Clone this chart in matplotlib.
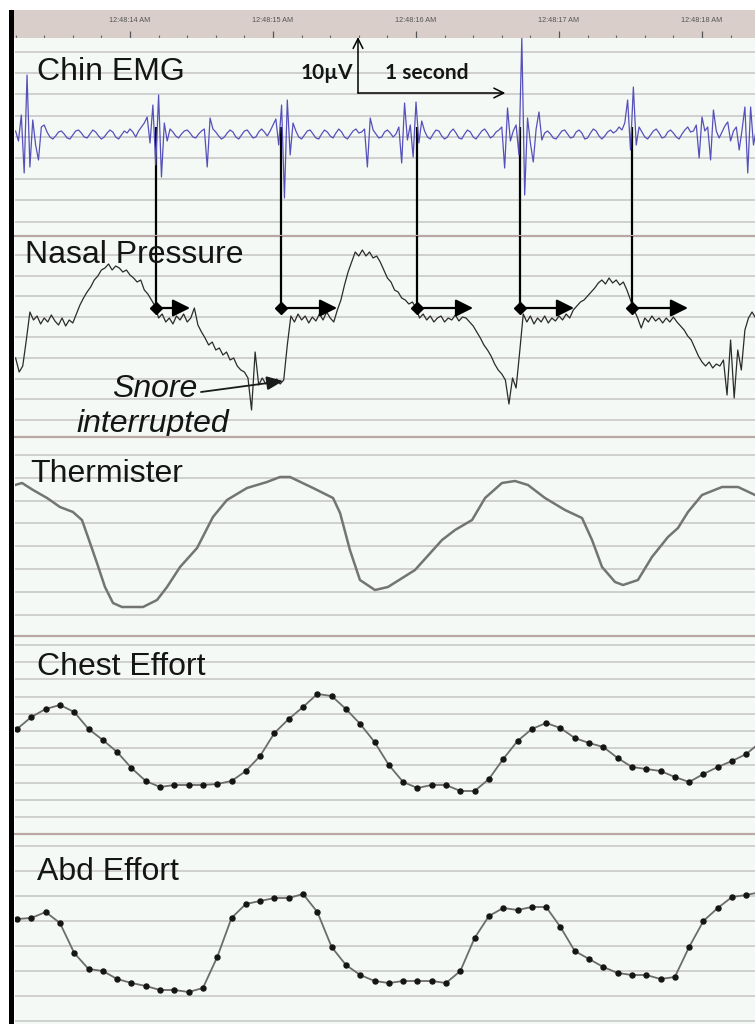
import numpy as np
import matplotlib
matplotlib.use("Agg")
import matplotlib.pyplot as plt
from matplotlib.patches import Rectangle
from matplotlib.ticker import MultipleLocator

# ------------------------------------------------------------------ data
tick_seconds = [14, 15, 16, 17, 18]
tick_labels = ["12:48:14 AM", "12:48:15 AM", "12:48:16 AM", "12:48:17 AM", "12:48:18 AM"]
channel_names = ["Chin EMG", "Nasal Pressure", "Thermister", "Chest Effort", "Abd Effort"]

# Chin EMG (arbitrary units, 55 units = 10 uV), sampled every 0.02 s from 13.20 s
emg_t0, emg_dt = 13.20, 0.02
emg = [4, -6, 20, -38, 60, -32, 15, -10, -25, 8,
       10, 3, -2, -4, -1, 3, 4, 1, -3, -4,
       0, 4, 5, 2, -2, -3, 1, 5, 3, -1,
       -4, -2, 2, 5, 3, -2, -4, 0, 4, 2,
       6, 3, -2, 4, 8, 12, 18, -8, 30, -30,
       40, -42, 12, -6, 6, 3, -1, -3, 1, 4,
       5, 2, -2, -3, 1, 4, 6, -32, 17, 6,
       3, -1, -4, -2, 2, 5, 3, -2, -4, 0,
       4, 5, 1, -3, -2, 3, 6, 3, -1, 4,
       10, 16, -10, 30, -63, 35, -20, 12, 4, -2,
       -4, 0, 4, 5, 1, -3, -4, 1, 5, 3,
       -1, -3, 2, 6, 3, -2, -4, 0, 4, 6,
       2, 3, 6, -32, 17, 5, 1, -3, -2, 3,
       5, 2, -2, 1, 8, -28, 32, -5, 10, -22,
       33, -8, 14, 4, -2, -4, 1, 5, 4, -1,
       -4, -2, 3, 6, 2, -3, -4, 1, 5, 3,
       -2, -4, 0, 4, 6, 2, -3, -1, 3, 5,
       8, -33, 27, -6, 4, 10, -20, 97, -60, 17,
       -8, -27, 6, 23, -5, 2, 4, 1, -3, -4,
       0, 4, 5, 1, -3, -2, 3, 5, 2, -4,
       -3, 2, 6, 4, -1, -4, -1, 3, 5, 2,
       4, 8, 5, 12, 35, -15, 48, -10, 8, 3,
       -2, -4, 0, 4, 6, 2, -3, -2, 3, 5,
       2, -2, -4, 1, 5, 8, 3, 4, 10, -23,
       18, 4, 8, -25, 25, 4, -3, 3, 9, 13,
       -6, 4, 8, -15, 5, 28, -38, 28, -10, 6]

# Nasal pressure (arbitrary units), sampled every 0.025 s from 13.20 s
nasal_t0, nasal_dt = 13.20, 0.025
nasal = [-50, -64, -58, -32, -4, -12, -8, -16, -10, -14,
         -7, -13, -17, -10, -18, -12, -15, -6, 3, 10,
         16, 21, 28, 32, 38, 40, 44, 38, 42, 40,
         36, 38, 33, 30, 26, 28, 18, 14, 8, 2,
         -10, -6, -14, -10, -16, -8, -12, -6, -14, -10,
         0, -17, -24, -30, -37, -34, -42, -40, -47, -44,
         -52, -50, -58, -62, -64, -70, -102, -44, -77, -70,
         -76, -72, -75, -71, -76, -72, -37, -8, -14, -6,
         -12, -8, -15, -9, -13, -6, -12, -4, -10, -14,
         -2, 8, 23, 36, 46, 56, 52, 58, 52, 56,
         50, 52, 46, 38, 30, 26, 18, 16, 10, 8,
         4, 6, 0, -10, -6, -12, -8, -14, -10, -8,
         -14, -10, -12, -7, -13, -9, -10, -14, -18, -24,
         -30, -37, -42, -48, -56, -62, -66, -72, -96, -70,
         -80, -44, -6, -14, -8, -16, -10, -14, -8, -15,
         -10, -13, -8, -12, -6, -10, -2, 2, 6, 8,
         12, 16, 20, 25, 28, 24, 30, 25, 28, 23,
         26, 18, 8, -2, -10, -20, -10, -14, -8, -13,
         -10, -15, -10, -14, -9, -14, -18, -22, -28, -32,
         -40, -48, -54, -58, -54, -60, -56, -58, -52, -87,
         -32, -90, -42, -62, -22, -10, -4, -10]

# Thermister (arbitrary units) at irregular times (s)
therm_t = [13.196, 13.245, 13.322, 13.420, 13.510, 13.601, 13.664, 13.706, 13.769, 13.825,
           13.881, 13.944, 14.091, 14.189, 14.259, 14.350, 14.469, 14.580, 14.678, 14.818,
           14.958, 15.049, 15.119, 15.280, 15.420, 15.469, 15.538, 15.608, 15.713, 15.804,
           15.993, 16.182, 16.273, 16.392, 16.483, 16.601, 16.692, 16.783, 16.902, 17.042,
           17.161, 17.231, 17.301, 17.392, 17.448, 17.552, 17.650, 17.762, 17.832, 17.902,
           18.000, 18.140, 18.252, 18.371]
therm = [55, 57, 50, 42, 33, 28, 20, 3, -23, -47,
         -63, -67, -67, -60, -47, -27, -8, 23, 40, 52,
         58, 63, 63, 52, 42, 27, -10, -40, -50, -47,
         -30, 0, 10, 20, 42, 57, 59, 55, 42, 30,
         22, 0, -27, -42, -45, -40, -17, 3, 12, 28,
         45, 53, 53, 45]

# Chest / Abdominal effort (arbitrary units), one sample every 0.1 s from 13.21 s
effort_t0, effort_dt = 13.21, 0.1
chest = [31, 43, 51, 55, 48, 31, 20, 8, -8, -21,
         -27, -25, -25, -25, -24, -21, -11, 4, 27, 41,
         53, 66, 64, 51, 36, 18, -5, -22, -28, -25,
         -25, -31, -31, -19, 1, 19, 31, 37, 32, 22,
         17, 13, 2, -7, -9, -11, -17, -22, -14, -7,
         -1, 6, 18]
abd = [31, 32, 38, 27, -3, -19, -21, -29, -33, -36,
       -40, -40, -42, -38, -7, 32, 46, 49, 52, 52,
       56, 38, 3, -15, -25, -31, -33, -31, -31, -31,
       -33, -21, 12, 34, 42, 40, 43, 43, 23, -1,
       -9, -17, -23, -25, -25, -29, -27, 3, 29, 42,
       53, 55, 58]

# Arousal markers (s): EMG burst -> interrupted snore segment
arousal_start = [14.182, 15.056, 16.007, 16.727, 17.510]
arousal_end = [14.420, 15.448, 16.399, 17.105, 17.902]

# ------------------------------------------------------------------ layout
W, H = 755, 1024
fig = plt.figure(figsize=(W / 100, H / 100), dpi=100, facecolor="white")


def t_at(px):
    return 14 + (px - 130) / 143.0


def rect(x0, y0, x1, y1):
    return [x0 / W, 1 - y1 / H, (x1 - x0) / W, (y1 - y0) / H]


BG = "#f4f9f5"
GRID = "#c8c8c8"
SEP = "#bba7a3"
XL = (t_at(15), t_at(755))
LABEL_FONT = ["Liberation Sans", "DejaVu Sans"]

# header time bar
hx = fig.add_axes(rect(14, 10, 755, 38))
hx.set_facecolor("#d9cec9")
hx.set_xlim(t_at(14), t_at(755))
hx.set_ylim(0, 1)
hx.set_xticks(tick_seconds)
hx.xaxis.set_minor_locator(MultipleLocator(0.2))
hx.tick_params(axis="x", which="major", direction="in", length=5, width=0.9,
               color="#555555", labelbottom=False)
hx.tick_params(axis="x", which="minor", direction="in", length=2.5, width=0.8,
               color="#666666")
hx.set_yticks([])
for s in hx.spines.values():
    s.set_visible(False)
hx.axhline(0, color="#b9aeaa", lw=0.8)
for t, lab in zip(tick_seconds, tick_labels):
    hx.text(t, 0.62, lab, ha="center", va="center", fontsize=5.2,
            color="#555555", family=LABEL_FONT)

panels = [
    dict(top=38, bottom=236, base=135, grid0=52, gstep=21.2, n=9, lab=(37, 80)),
    dict(top=236, bottom=437, base=308, grid0=255, gstep=20.6, n=9, lab=(25, 263)),
    dict(top=437, bottom=636, base=540, grid0=455, gstep=22.8, n=8, lab=(30, 482)),
    dict(top=636, bottom=834, base=760, grid0=645, gstep=17.2, n=11, lab=(37, 675)),
    dict(top=834, bottom=1024, base=950, grid0=846, gstep=25.0, n=8, lab=(37, 880)),
]

axes = []
for i, (p, name) in enumerate(zip(panels, channel_names)):
    ax = fig.add_axes(rect(15, p["top"], 755, p["bottom"]))
    ax.set_facecolor(BG)
    ax.set_xlim(*XL)
    ax.set_ylim(p["base"] - p["bottom"], p["base"] - p["top"])
    ax.set_xticks([])
    ax.set_yticks([])
    for s in ax.spines.values():
        s.set_visible(False)
    for k in range(p["n"]):
        ax.axhline(p["base"] - (p["grid0"] + k * p["gstep"]), color=GRID, lw=1.2, zorder=0.5)
    if i > 0:
        ax.axhline(p["base"] - p["top"], color=SEP, lw=1.6, zorder=0.6, clip_on=False)
    lx, ly = p["lab"]
    ax.text(t_at(lx), p["base"] - ly, name, fontsize=23, family=LABEL_FONT,
            color="#151515", ha="left", va="baseline", zorder=7)
    axes.append(ax)

ax_emg, ax_nas, ax_th, ax_ch, ax_ab = axes

# traces
emg_t = emg_t0 + emg_dt * np.arange(len(emg))
nasal_t = nasal_t0 + nasal_dt * np.arange(len(nasal))
effort_t = effort_t0 + effort_dt * np.arange(len(chest))

ax_emg.plot(emg_t, emg, color="#5650bb", lw=0.9, zorder=3)
ax_nas.plot(nasal_t, nasal, color="#2b2b2b", lw=0.9, zorder=3)
ax_th.plot(therm_t, therm, color="#747474", lw=1.8, zorder=3)
for ax, vals in ((ax_ch, chest), (ax_ab, abd)):
    ax.plot(effort_t, vals, color="#6c6c6c", lw=1.3, marker="o", ms=3.6,
            mfc="#151515", mec="#151515", zorder=3)

# arousal connectors, diamonds and arrows
ax_emg.vlines(arousal_start, ax_emg.get_ylim()[0], 8, colors="black", lw=1.6, zorder=2)
ax_nas.vlines(arousal_start, 0, ax_nas.get_ylim()[1], colors="black", lw=1.6, zorder=4)
for s, e in zip(arousal_start, arousal_end):
    ax_nas.annotate("", xy=(e, 0), xytext=(s, 0),
                    arrowprops=dict(arrowstyle="-|>,head_length=0.7,head_width=0.35",
                                    color="black", lw=1.6, mutation_scale=15,
                                    shrinkA=0, shrinkB=0), zorder=5)
ax_nas.plot(arousal_start, np.zeros(len(arousal_start)), "D", color="black", ms=6.5, zorder=6)

# snore annotation
ax_nas.text(t_at(155), 308 - 397, "Snore", fontsize=23, style="italic",
            family=LABEL_FONT, ha="center", va="baseline", color="#151515", zorder=7)
ax_nas.text(t_at(153), 308 - 432, "interrupted", fontsize=23, style="italic",
            family=LABEL_FONT, ha="center", va="baseline", color="#151515", zorder=7)
ax_nas.annotate("", xy=(t_at(283), 308 - 381), xytext=(t_at(201), 308 - 392),
                arrowprops=dict(arrowstyle="-|>,head_length=0.7,head_width=0.3",
                                color="#1a1a1a", lw=1.3, mutation_scale=14,
                                shrinkA=0, shrinkB=0), zorder=6)

# scale bar: 10 uV (55 units) and 1 second
sx = t_at(358)
sy = 135 - 93
ax_emg.annotate("", xy=(sx, sy + 56), xytext=(sx, sy),
                arrowprops=dict(arrowstyle="->,head_length=0.5,head_width=0.25",
                                color="black", lw=1.1, mutation_scale=14,
                                shrinkA=0, shrinkB=0), annotation_clip=False, zorder=6)
ax_emg.annotate("", xy=(sx + 1.03, sy), xytext=(sx, sy),
                arrowprops=dict(arrowstyle="->,head_length=0.5,head_width=0.25",
                                color="black", lw=1.1, mutation_scale=14,
                                shrinkA=0, shrinkB=0), annotation_clip=False, zorder=6)
ax_emg.text(t_at(353), 135 - 79, "10µV", fontsize=15, weight="bold",
            family=["Lato", "DejaVu Sans"], ha="right", va="baseline", color="#151515", zorder=7)
ax_emg.text(t_at(385), 135 - 79, "1 second", fontsize=15, weight="bold",
            family=["Lato", "DejaVu Sans"], ha="left", va="baseline", color="#151515", zorder=7)

# left black border
fig.add_artist(Rectangle((9 / W, 0), 5 / W, 1 - 10 / H, transform=fig.transFigure,
                         facecolor="black", edgecolor="none", zorder=10))

fig.savefig("out.png", dpi=100, facecolor="white")
